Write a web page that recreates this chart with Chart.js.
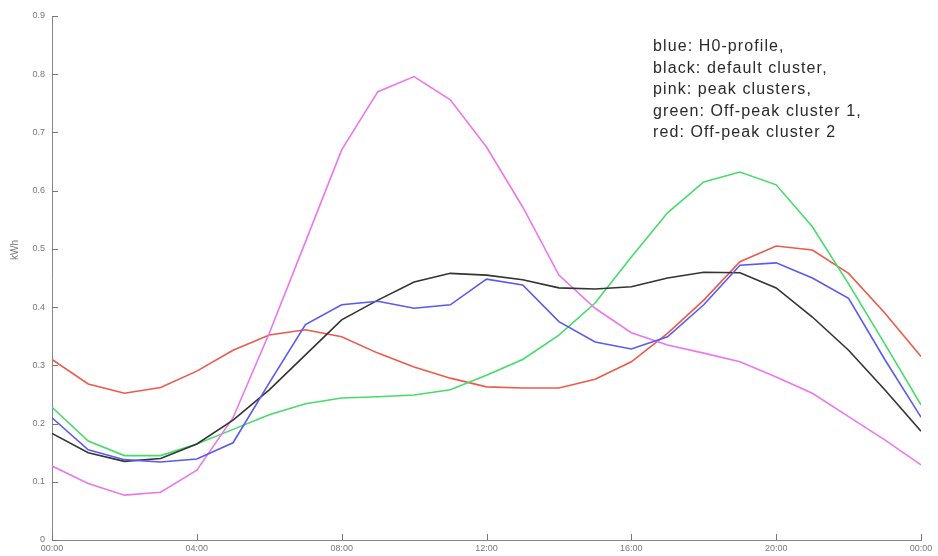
<!DOCTYPE html>
<html>
<head>
<meta charset="utf-8">
<script src="https://cdn.jsdelivr.net/npm/chart.js@4.4.1/dist/chart.umd.min.js"></script>
<style>
  html, body { margin: 0; padding: 0; background: #fff; }
  #wrap { width: 938px; height: 556px; }
</style>
</head>
<body>
<div id="wrap"><canvas id="myChart" width="938" height="556"></canvas></div>
<script>
// hours of the day (0..24, last point = next midnight)
const hours = [0, 1, 2, 3, 4, 5, 6, 7, 8, 9, 10, 11, 12, 13, 14, 15, 16, 17, 18, 19, 20, 21, 22, 23, 24];
const xTicks = [0, 4, 8, 12, 16, 20, 24];
const yTicks = [0, 0.1, 0.2, 0.3, 0.4, 0.5, 0.6, 0.7, 0.8, 0.9];

// kWh per hour
const h0Profile = [0.21, 0.155, 0.138, 0.134, 0.139, 0.167, 0.27, 0.37, 0.404, 0.41, 0.398, 0.404, 0.448,
    0.438, 0.375, 0.34, 0.328, 0.349, 0.404, 0.472, 0.476, 0.45, 0.415, 0.31, 0.211];
const defaultCluster = [0.183, 0.15, 0.135, 0.14, 0.165, 0.206, 0.258, 0.318, 0.378, 0.412, 0.443, 0.458, 0.455,
    0.447, 0.433, 0.431, 0.435, 0.45, 0.46, 0.459, 0.433, 0.383, 0.326, 0.258, 0.187];
const peakClusters = [0.127, 0.097, 0.077, 0.082, 0.12, 0.21, 0.355, 0.512, 0.67, 0.77, 0.796, 0.756, 0.675,
    0.572, 0.455, 0.398, 0.356, 0.335, 0.321, 0.306, 0.28, 0.252, 0.212, 0.172, 0.129];
const offPeak1 = [0.228, 0.17, 0.145, 0.145, 0.165, 0.19, 0.215, 0.234, 0.244, 0.246, 0.249, 0.258, 0.283,
    0.31, 0.352, 0.407, 0.486, 0.562, 0.615, 0.632, 0.61, 0.538, 0.44, 0.337, 0.232];
const offPeak2 = [0.31, 0.268, 0.252, 0.262, 0.29, 0.326, 0.352, 0.361, 0.349, 0.321, 0.297, 0.278, 0.263,
    0.261, 0.261, 0.276, 0.306, 0.355, 0.412, 0.478, 0.505, 0.498, 0.458, 0.39, 0.315];

const noteLines = ['blue: H0-profile,', 'black: default cluster,', 'pink: peak clusters,',
    'green: Off-peak cluster 1,', 'red: Off-peak cluster 2'];
const unitLabel = 'kWh';

const toPoints = function(values) {
    return values.map((v, i) => ({ x: hours[i], y: v }));
};
const line = function(label, values, color) {
    return {
        label,
        data: toPoints(values),
        borderColor: color,
        borderWidth: 1.6,
        pointRadius: 0,
        tension: 0,
        fill: false,
    };
};
const hourLabel = function(v) {
    const h = v % 24;
    return (h < 10 ? '0' + h : '' + h) + ':00';
};

// inward tick marks, like the original plot
const innerTicks = {
    id: 'innerTicks',
    afterDraw(chart) {
        const ctx = chart.ctx;
        const x = chart.scales.x, y = chart.scales.y;
        const area = chart.chartArea;
        ctx.save();
        ctx.strokeStyle = '#777';
        ctx.lineWidth = 1;
        ctx.beginPath();
        yTicks.forEach(t => {
            const py = Math.round(y.getPixelForValue(t)) + 0.5;
            ctx.moveTo(area.left, py);
            ctx.lineTo(area.left + 6, py);
        });
        xTicks.forEach(t => {
            const px = Math.round(x.getPixelForValue(t)) + 0.5;
            ctx.moveTo(px, area.bottom);
            ctx.lineTo(px, area.bottom - 6);
        });
        ctx.stroke();
        ctx.restore();
    }
};

// free text note in the upper right, plus the unit label
const legendNote = {
    id: 'legendNote',
    afterDraw(chart) {
        const ctx = chart.ctx;
        ctx.save();
        ctx.fillStyle = '#2a2a2a';
        ctx.font = '16px "Liberation Sans", Arial, sans-serif';
        ctx.letterSpacing = '1.1px';
        ctx.textBaseline = 'alphabetic';
        noteLines.forEach((t, i) => ctx.fillText(t, 653, 51 + i * 21.5));
        ctx.letterSpacing = '0px';

        ctx.fillStyle = '#777';
        ctx.font = '10px "Liberation Sans", Arial, sans-serif';
        ctx.textAlign = 'center';
        ctx.textBaseline = 'middle';
        ctx.translate(15, 250);
        ctx.rotate(-Math.PI / 2);
        ctx.fillText(unitLabel, 0, 0);
        ctx.restore();
    }
};

const canvas = document.getElementById('myChart');
new Chart(canvas, {
    type: 'line',
    data: {
        datasets: [
            line('H0-profile', h0Profile, '#5a5aee'),
            line('default cluster', defaultCluster, '#333333'),
            line('peak clusters', peakClusters, '#ec77ec'),
            line('Off-peak cluster 1', offPeak1, '#45dc6a'),
            line('Off-peak cluster 2', offPeak2, '#ec5a4c'),
        ],
    },
    options: {
        responsive: false,
        animation: false,
        layout: { padding: { top: 16, right: 17, left: 0, bottom: 0 } },
        plugins: {
            legend: { display: false },
            tooltip: { enabled: false },
        },
        scales: {
            x: {
                type: 'linear',
                min: 0,
                max: 24,
                afterFit(s) { s.height = 16; },
                afterBuildTicks(s) { s.ticks = xTicks.map(v => ({ value: v })); },
                grid: { display: true, drawOnChartArea: false, drawTicks: false },
                border: { display: true, color: '#888', width: 1 },
                ticks: {
                    callback: hourLabel,
                    color: '#777',
                    padding: 3,
                    maxRotation: 0,
                    font: { family: '"Liberation Sans", Arial, sans-serif', size: 9 },
                },
            },
            y: {
                min: 0,
                max: 0.9,
                afterFit(s) { s.width = 52; },
                afterBuildTicks(s) { s.ticks = yTicks.map(v => ({ value: v })); },
                grid: { display: true, drawOnChartArea: false, drawTicks: false },
                border: { display: true, color: '#888', width: 1 },
                ticks: {
                    color: '#777',
                    padding: 7,
                    font: { family: '"Liberation Sans", Arial, sans-serif', size: 9 },
                },
            },
        },
    },
    plugins: [innerTicks, legendNote],
});
</script>
</body>
</html>
